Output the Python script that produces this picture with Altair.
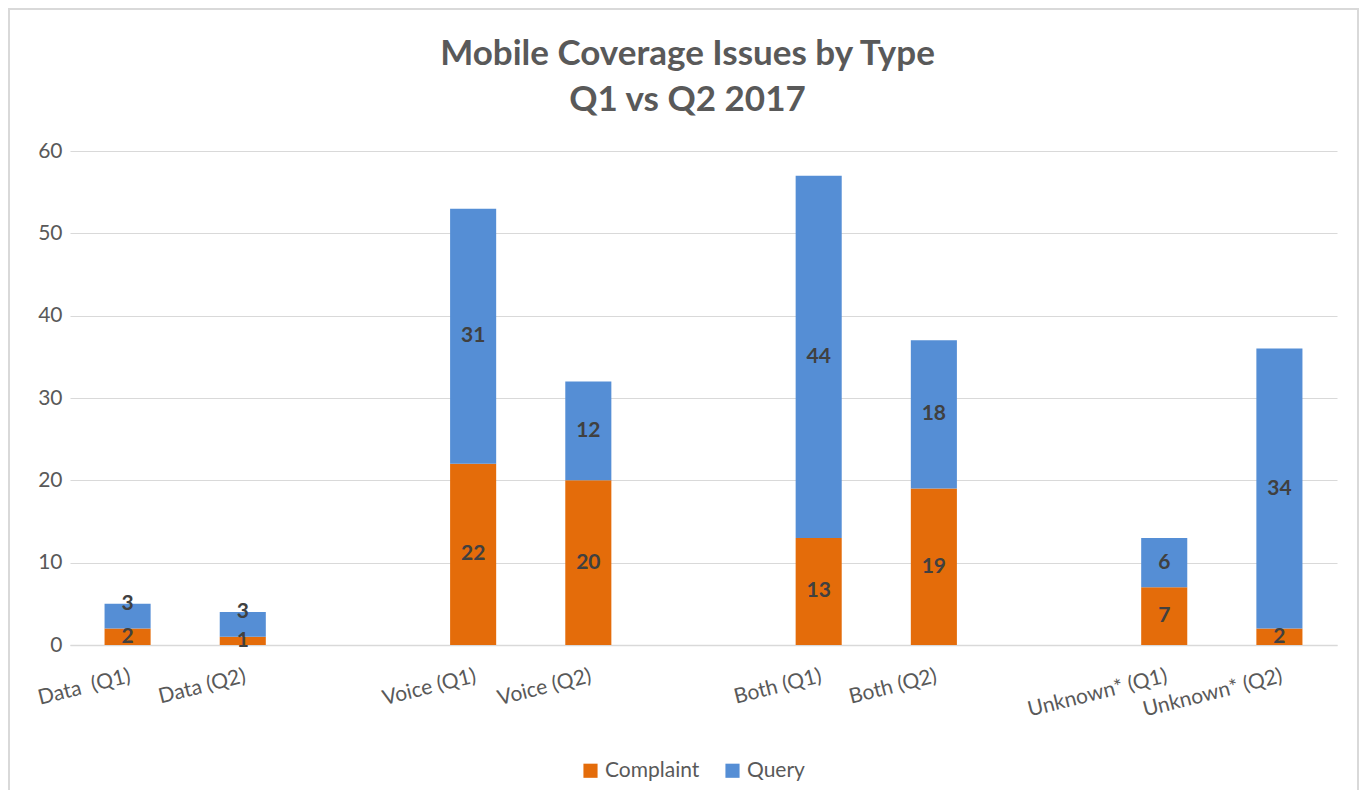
import altair as alt
import pandas as pd

categories = ["Data\u00a0 (Q1)", "Data (Q2)", " ", "Voice (Q1)", "Voice (Q2)", "  ",
              "Both (Q1)", "Both (Q2)", "   ", "Unknown* (Q1)", "Unknown* (Q2)"]
bar_categories = ["Data\u00a0 (Q1)", "Data (Q2)", "Voice (Q1)", "Voice (Q2)",
                  "Both (Q1)", "Both (Q2)", "Unknown* (Q1)", "Unknown* (Q2)"]
complaint = [2, 1, 22, 20, 13, 19, 7, 2]
query = [3, 3, 31, 12, 44, 18, 6, 34]
series = ["Complaint", "Query"]
colors = ["#E46C0A", "#558ED5"]

rows = []
for c, v in zip(bar_categories, complaint):
    rows.append({"cat": c, "series": "Complaint", "value": v, "ord": 0})
for c, v in zip(bar_categories, query):
    rows.append({"cat": c, "series": "Query", "value": v, "ord": 1})
df = pd.DataFrame(rows)

font = "Lato"
xscale = alt.Scale(domain=categories, paddingInner=0.6, paddingOuter=0.3)
yscale = alt.Scale(domain=[0, 60])

base = alt.Chart(df)

border = alt.Chart(pd.DataFrame({"k": [0]})).mark_rect(
    fillOpacity=0, fill="white", stroke="#D9D9D9", strokeWidth=2
).encode(
    x=alt.value(-61), x2=alt.value(1288), y=alt.value(-142), y2=alt.value(700)
)

bars = base.mark_bar().encode(
    x=alt.X("cat:N", scale=xscale, sort=categories,
            axis=alt.Axis(title=None, labelAngle=-14, ticks=False, domain=True,
                          domainColor="#D9D9D9", domainWidth=1.5,
                          labelFontSize=21, labelColor="#595959", labelFont=font,
                          labelPadding=20, grid=False)),
    y=alt.Y("value:Q", stack="zero", scale=yscale,
            axis=alt.Axis(title=None, values=[0, 10, 20, 30, 40, 50, 60],
                          ticks=False, domain=False, grid=True,
                          gridColor="#D9D9D9", gridWidth=1,
                          labelFontSize=21, labelColor="#595959", labelFont=font,
                          labelPadding=8)),
    color=alt.Color("series:N", scale=alt.Scale(domain=series, range=colors),
                    legend=alt.Legend(title=None, orient="none", direction="horizontal",
                                      legendX=510, legendY=609, symbolType="square",
                                      symbolSize=200, symbolStrokeWidth=0,
                                      labelFontSize=21, labelColor="#595959",
                                      labelFont=font, columnPadding=22,
                                      symbolOpacity=1)),
    order=alt.Order("ord:Q"),
)

labels = base.transform_stack(
    stack="value", groupby=["cat"], as_=["y0", "y1"], sort=[alt.SortField("ord")]
).transform_calculate(
    mid="datum.ord == 1 ? max((datum.y0 + datum.y1) / 2, datum.y0 + 3) : (datum.y0 + datum.y1) / 2"
).mark_text(fontSize=21, fontWeight="bold", color="#404040", font=font,
            baseline="middle").encode(
    x=alt.X("cat:N", scale=xscale, sort=categories),
    y=alt.Y("mid:Q", scale=yscale),
    text=alt.Text("value:Q"),
)

chart = alt.layer(border, bars, labels).properties(
    width=1267, height=494,
    title=alt.TitleParams(["Mobile Coverage Issues by Type", "Q1 vs Q2 2017"],
                          anchor="middle", frame="group", fontSize=35,
                          fontWeight="bold", color="#595959", font=font,
                          lineHeight=46, offset=-110, dx=-16),
    autosize=alt.AutoSizeParams(type="none"),
    padding={"left": 62, "top": 143, "right": 22, "bottom": 145},
    background="white",
).configure_view(stroke=None)

chart.save("out.html", embed_options={"renderer": "svg", "actions": False})
